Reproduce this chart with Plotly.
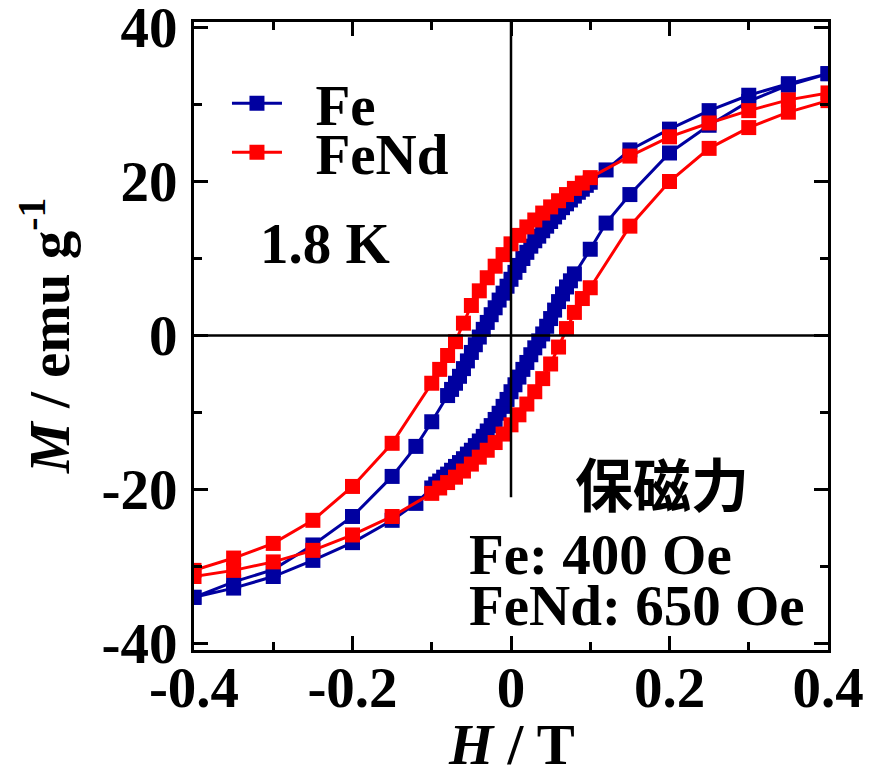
import plotly.graph_objects as go

# ---------------- data ----------------
# Fe : descending branch (+0.4 T -> -0.4 T)
fe_h_down = [0.40, 0.35, 0.30, 0.25, 0.20, 0.15, 0.12, 0.10,
             0.095, 0.090, 0.085, 0.080, 0.075, 0.070, 0.065, 0.060, 0.055, 0.050,
             0.045, 0.040, 0.035, 0.030, 0.025, 0.020, 0.015, 0.010, 0.005, 0.000,
             -0.005, -0.010, -0.015, -0.020, -0.025, -0.030, -0.035, -0.040, -0.045,
             -0.050, -0.055, -0.060, -0.065, -0.070, -0.075, -0.080,
             -0.10, -0.12, -0.15, -0.20, -0.25, -0.30, -0.35, -0.40]
fe_m_down = [34.0, 32.7, 31.2, 29.2, 26.8, 24.1, 21.5, 19.9,
             19.5, 19.0, 18.6, 18.1, 17.6, 17.1, 16.6, 16.0, 15.4, 14.8,
             14.2, 13.6, 12.9, 12.3, 11.6, 10.8, 10.0, 9.1, 8.2, 7.3,
             6.4, 5.5, 4.6, 3.6, 2.7, 1.7, 0.8, -0.2, -1.2,
             -2.2, -3.3, -4.3, -5.3, -6.2, -7.0, -7.8,
             -11.2, -14.4, -18.3, -23.5, -27.2, -30.4, -32.0, -34.0]
# Fe : ascending branch (-0.4 T -> +0.4 T)
fe_h_up = [-0.40, -0.35, -0.30, -0.25, -0.20, -0.15, -0.12, -0.10,
           -0.095, -0.090, -0.085, -0.080, -0.075, -0.070, -0.065, -0.060, -0.055, -0.050,
           -0.045, -0.040, -0.035, -0.030, -0.025, -0.020, -0.015, -0.010, -0.005, 0.000,
           0.005, 0.010, 0.015, 0.020, 0.025, 0.030, 0.035, 0.040, 0.045,
           0.050, 0.055, 0.060, 0.065, 0.070, 0.075, 0.080,
           0.10, 0.12, 0.15, 0.20, 0.25, 0.30, 0.35, 0.40]
fe_m_up = [-34.0, -32.8, -31.3, -29.2, -26.9, -24.0, -21.8, -19.8,
           -19.3, -18.9, -18.4, -18.0, -17.5, -17.0, -16.5, -16.0, -15.4, -14.9,
           -14.3, -13.7, -13.1, -12.4, -11.7, -10.9, -10.1, -9.2, -8.3, -7.3,
           -6.4, -5.4, -4.4, -3.5, -2.5, -1.6, -0.7, 0.2, 1.2,
           2.2, 3.3, 4.4, 5.4, 6.3, 7.1, 8.0,
           11.2, 14.6, 18.3, 23.7, 27.3, 30.4, 32.5, 34.0]

# FeNd : descending branch
fend_h_down = [0.40, 0.35, 0.30, 0.25, 0.20, 0.15, 0.10,
               0.09, 0.08, 0.07, 0.06, 0.05, 0.04, 0.03, 0.02, 0.01, 0.00,
               -0.01, -0.02, -0.03, -0.04, -0.05, -0.06, -0.07, -0.08, -0.09, -0.10,
               -0.15, -0.20, -0.25, -0.30, -0.35, -0.40]
fend_m_down = [31.5, 30.6, 29.2, 27.6, 25.8, 23.3, 20.5,
               19.8, 19.1, 18.3, 17.5, 16.7, 15.9, 15.0, 14.1, 13.0, 11.9,
               10.5, 9.0, 7.5, 5.8, 3.9, 1.6, -0.8, -2.6, -4.4, -6.2,
               -14.0, -19.6, -24.0, -27.0, -28.9, -30.5]
# FeNd : ascending branch
fend_h_up = [-0.40, -0.35, -0.30, -0.25, -0.20, -0.15, -0.10,
             -0.09, -0.08, -0.07, -0.06, -0.05, -0.04, -0.03, -0.02, -0.01, 0.00,
             0.01, 0.02, 0.03, 0.04, 0.05, 0.06, 0.07, 0.08, 0.09, 0.10,
             0.15, 0.20, 0.25, 0.30, 0.35, 0.40]
fend_m_up = [-31.3, -30.5, -29.4, -27.9, -25.9, -23.5, -20.5,
             -19.8, -19.1, -18.4, -17.6, -16.7, -15.8, -14.9, -13.9, -12.8, -11.6,
             -10.3, -8.9, -7.3, -5.6, -3.7, -1.5, 0.9, 3.0, 4.8, 6.2,
             14.2, 20.0, 24.3, 27.0, 29.0, 30.5]

x_tickvals = [-0.4, -0.2, 0, 0.2, 0.4]
x_ticktext = ["-0.4", "-0.2", "0", "0.2", "0.4"]
x_minor = [-0.3, -0.1, 0.1, 0.3]
y_tickvals = [-40, -20, 0, 20, 40]
y_ticktext = ["-40", "-20", "0", "20", "40"]
y_minor = [-30, -10, 10, 30]

BLUE = "#0000A0"
RED = "#FF0000"
SERIF = "Liberation Serif"
FS = 57

fig = go.Figure()
fig.add_trace(go.Scatter(
    x=fe_h_down + fe_h_up, y=fe_m_down + fe_m_up, mode="lines+markers",
    name="\u00a0\u00a0<b>Fe</b>", legend="legend",
    line=dict(color=BLUE, width=3),
    marker=dict(symbol="square", size=15, color=BLUE)))
fig.add_trace(go.Scatter(
    x=fend_h_down + fend_h_up, y=fend_m_down + fend_m_up, mode="lines+markers",
    name="\u00a0\u00a0<b>FeNd</b>", legend="legend2",
    line=dict(color=RED, width=3),
    marker=dict(symbol="square", size=15, color=RED)))

# zero lines
fig.add_shape(type="line", xref="x", yref="y", x0=-0.4, x1=0.4, y0=0, y1=0,
              line=dict(color="black", width=2.5))
fig.add_shape(type="line", xref="x", yref="y", x0=0, x1=0, y0=-21, y1=40.71,
              line=dict(color="black", width=2.5))

axis_common = dict(
    showline=True, linewidth=3, linecolor="black", mirror="ticks",
    ticks="inside", ticklen=14, tickwidth=2.5, tickcolor="black",
    showgrid=False, zeroline=False, ticklabeloverflow="allow", automargin=False,
    tickfont=dict(family=SERIF, size=FS, color="black", weight="bold"),
)
fig.update_xaxes(range=[-0.4, 0.4], tickmode="array", tickvals=x_tickvals, ticktext=x_ticktext,
                 ticklabelstandoff=-14,
                 minor=dict(tickmode="array", tickvals=x_minor, ticks="inside", ticklen=8,
                            tickwidth=2.5, tickcolor="black"),
                 **axis_common)
fig.update_yaxes(range=[-40.84, 40.71], tickmode="array", tickvals=y_tickvals, ticktext=y_ticktext,
                 ticklabelstandoff=2,
                 minor=dict(tickmode="array", tickvals=y_minor, ticks="inside", ticklen=8,
                            tickwidth=2.5, tickcolor="black"),
                 **axis_common)

legend_common = dict(font=dict(family=SERIF, size=FS, color="black"),
                     bgcolor="rgba(0,0,0,0)", borderwidth=0, itemwidth=50,
                     xanchor="left", yanchor="middle")
fig.update_layout(
    width=876, height=778,
    margin=dict(l=194, r=48, t=22, b=128, autoexpand=False),
    plot_bgcolor="white", paper_bgcolor="white",
    showlegend=True,
    legend=dict(x=0.052, y=0.870, **legend_common),
    legend2=dict(x=0.052, y=0.792, **legend_common),
)

txt = dict(family=SERIF, size=FS, color="black")
fig.add_annotation(x=-0.235, y=12.0, xref="x", yref="y", text="<b>1.8 K</b>",
                   showarrow=False, xanchor="center", yanchor="middle", font=txt)
fig.add_annotation(x=0.19, y=-19.0, xref="x", yref="y", text="<b>保磁力</b>",
                   showarrow=False, xanchor="center", yanchor="middle",
                   font=dict(family="Noto Sans CJK JP", size=58, color="black"))
fig.add_annotation(x=-0.056, y=-28.5, xref="x", yref="y", text="<b>Fe: 400 Oe</b>",
                   showarrow=False, xanchor="left", yanchor="middle", font=txt)
fig.add_annotation(x=-0.056, y=-35.0, xref="x", yref="y", text="<b>FeNd: 650 Oe</b>",
                   showarrow=False, xanchor="left", yanchor="middle", font=txt)
# axis titles
fig.add_annotation(x=-0.235, y=0.5, xref="paper", yref="paper",
                   text="<b><i>M</i> / emu g<sup>-1</sup></b>", textangle=-90,
                   showarrow=False, xanchor="center", yanchor="middle", font=txt)
fig.add_annotation(x=0.5, y=-0.151, xref="paper", yref="paper",
                   text="<b><i>H</i> / T</b>", showarrow=False,
                   xanchor="center", yanchor="middle", font=txt)

fig.write_html("out.html")
